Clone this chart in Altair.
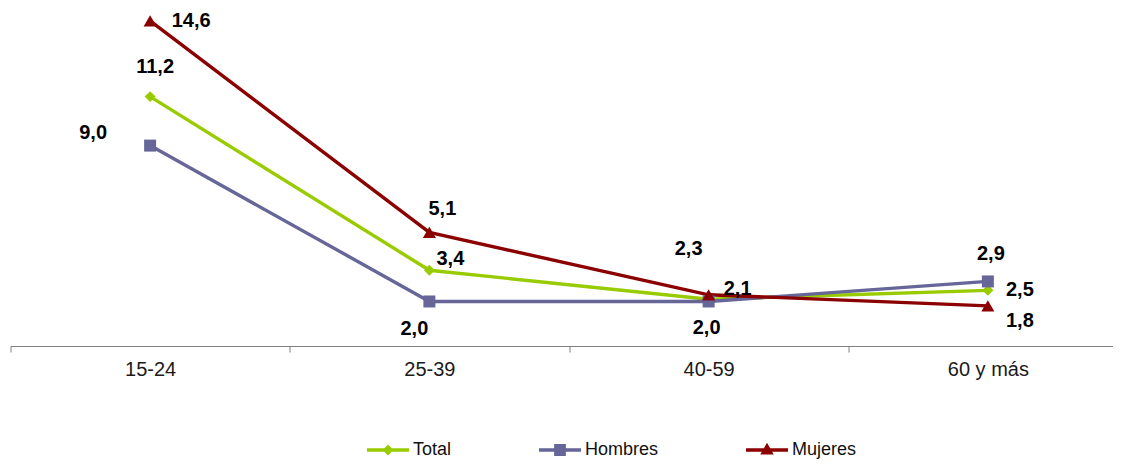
import altair as alt
import pandas as pd

# ---- data ----
CATEGORIES = ["15-24", "25-39", "40-59", "60 y más"]
SERIES = ["Total", "Hombres", "Mujeres"]
TOTAL = [11.2, 3.4, 2.1, 2.5]
HOMBRES = [9.0, 2.0, 2.0, 2.9]
MUJERES = [14.6, 5.1, 2.3, 1.8]

# ---- styles ----
COLORS = ["#99CC00", "#666699", "#8B0000"]
SHAPES = ["diamond", "square", "triangle-up"]
MARK_SIZES = [120, 144, 170]
LEGEND_PATHS = [
    "M-1,-0.08H1V0.08H-1Z M-0.26,0L0,-0.26L0.26,0L0,0.26Z",
    "M-1,-0.08H1V0.08H-1Z M-0.28,-0.28H0.28V0.28H-0.28Z",
    "M-1,-0.08H1V0.08H-1Z M0,-0.34L0.32,0.22H-0.32Z",
]
LABEL_OFFSETS = {
    ("Mujeres", "15-24"): (41, 0),
    ("Total", "15-24"): (5, -30),
    ("Hombres", "15-24"): (-57, -13),
    ("Mujeres", "25-39"): (13, -23),
    ("Total", "25-39"): (21, -11),
    ("Hombres", "25-39"): (-15, 28),
    ("Mujeres", "40-59"): (-20, -46),
    ("Total", "40-59"): (29, -10),
    ("Hombres", "40-59"): (-2, 27),
    ("Hombres", "60 y más"): (3, -27),
    ("Total", "60 y más"): (32, 0),
    ("Mujeres", "60 y más"): (32, 15),
}

rows = []
for s, vals in zip(SERIES, [TOTAL, HOMBRES, MUJERES]):
    for c, v in zip(CATEGORIES, vals):
        rows.append({"grupo": c, "serie": s, "valor": v,
                     "etiqueta": f"{v:.1f}".replace(".", ",")})
df = pd.DataFrame(rows)

FONT = "Liberation Sans"

x = alt.X(
    "grupo:N",
    sort=CATEGORIES,
    scale=alt.Scale(domain=CATEGORIES, range=[0, 1117], paddingInner=0, paddingOuter=0),
    axis=alt.Axis(title=None, tickBand="extent", labelAngle=0, labelFont=FONT,
                  labelFontSize=20, labelColor="#1a1a1a", domainColor="#808080",
                  tickColor="#808080", tickSize=6, labelPadding=7, grid=False),
)
y = alt.Y("valor:Q", scale=alt.Scale(domain=[0, 15], nice=False, zero=True), axis=None)

base = alt.Chart(df)

lines = base.mark_line(strokeWidth=3.4).encode(
    x=x, y=y,
    color=alt.Color("serie:N", scale=alt.Scale(domain=SERIES, range=COLORS), legend=None),
)

point_layers = []
for s, col, shp, sz in zip(SERIES, COLORS, SHAPES, MARK_SIZES):
    point_layers.append(
        base.transform_filter(alt.datum.serie == s)
        .mark_point(filled=True, opacity=1, color=col, shape=shp, size=sz)
        .encode(x=x, y=y)
    )

text_layers = []
for (s, c), (dx, dy) in LABEL_OFFSETS.items():
    text_layers.append(
        base.transform_filter((alt.datum.serie == s) & (alt.datum.grupo == c))
        .mark_text(dx=dx, dy=dy, align="center", baseline="middle", font=FONT,
                   fontSize=20, fontWeight="bold", color="#000000")
        .encode(x=x, y=y, text="etiqueta:N")
    )

leg = dict(title=None, orient="none", legendX=355.5, legendY=416, direction="horizontal",
           columns=3, columnPadding=86, symbolSize=1764, labelFont=FONT, labelFontSize=18,
           labelColor="#111111", labelOffset=3, padding=0)

legend_layer = base.transform_filter("false").mark_point(filled=True, opacity=1).encode(
    color=alt.Color("serie:N", scale=alt.Scale(domain=SERIES, range=COLORS), legend=alt.Legend(**leg)),
    shape=alt.Shape("serie:N", scale=alt.Scale(domain=SERIES, range=LEGEND_PATHS), legend=alt.Legend(**leg)),
)

chart = alt.layer(lines, *point_layers, *text_layers, legend_layer).resolve_scale(
    color="independent", shape="independent"
).properties(
    width=1102.5, height=334,
    padding={"left": 2.5, "top": 4, "right": 0, "bottom": 114},
    autosize=alt.AutoSizeParams(type="none"),
).configure_view(stroke=None)

chart.save("out.html", embed_options={"renderer": "svg", "actions": False})
